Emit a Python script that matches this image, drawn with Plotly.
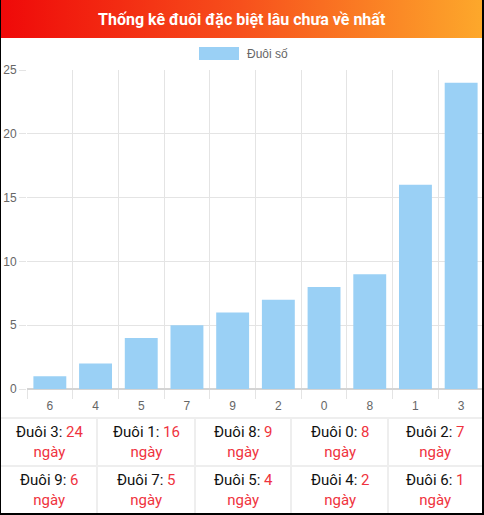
import base64
import plotly.graph_objects as go

# Data
digits = ["6", "4", "5", "7", "9", "2", "0", "8", "1", "3"]
days = [1, 2, 4, 5, 6, 7, 8, 9, 16, 24]
series_name = "Đuôi số"
chart_title = "Thống kê đuôi đặc biệt lâu chưa về nhất"
day_word = "ngày"

W, H = 484, 515
RED = "#ef3340"

# table: longest first, 5 columns x 2 rows
ranked = sorted(zip(digits, days), key=lambda p: -p[1])

fig = go.Figure()

fig.add_trace(go.Bar(
    x=digits, y=days, name=series_name,
    marker=dict(color="#9ad0f5", line=dict(width=0)),
    showlegend=False, hoverinfo="x+y",
))

# gradient header bar as an svg image
svg = (f"<svg xmlns='http://www.w3.org/2000/svg' width='{W}' height='38'>"
       "<defs><linearGradient id='g' x1='0' x2='1' y1='0' y2='0'>"
       "<stop offset='0' stop-color='#ef0909'/>"
       "<stop offset='0.5' stop-color='#f7501c'/>"
       "<stop offset='1' stop-color='#fda82b'/>"
       "</linearGradient></defs>"
       f"<rect width='{W}' height='38' fill='url(#g)'/></svg>")
svg_uri = "data:image/svg+xml;base64," + base64.b64encode(svg.encode()).decode()

grid = "#e4e4e4"
cell_line = "#eeeeee"

shapes = [
    # white page
    dict(type="rect", xref="paper", yref="paper", layer="below",
         x0=1 / W, x1=482 / W, y0=2 / H, y1=1,
         fillcolor="white", line=dict(width=0)),
    # legend swatch
    dict(type="rect", xref="paper", yref="paper",
         x0=199 / W, x1=239 / W, y0=1 - 60 / H, y1=1 - 47 / H,
         fillcolor="#9ad0f5", line=dict(width=0)),
]
# table grid
for yy in [418, 466]:
    shapes.append(dict(type="line", xref="paper", yref="paper",
                       x0=1 / W, x1=482 / W, y0=1 - yy / H, y1=1 - yy / H,
                       line=dict(color=cell_line, width=2)))
col_edges = [1, 97, 195, 291, 388, 482]
for xx in col_edges[1:-1]:
    shapes.append(dict(type="line", xref="paper", yref="paper",
                       x0=xx / W, x1=xx / W, y0=2 / H, y1=1 - 418 / H,
                       line=dict(color=cell_line, width=2)))
# thin black frame on left, right and bottom
for x0, x1, y0, y1 in [(0, 1, 0, H), (482, W, 0, H), (0, W, H - 2, H)]:
    shapes.append(dict(type="rect", xref="paper", yref="paper", layer="above",
                       x0=x0 / W, x1=x1 / W, y0=1 - y1 / H, y1=1 - y0 / H,
                       fillcolor="black", line=dict(width=0)))

annotations = [
    dict(text=f"<b>{chart_title}</b>", xref="paper", yref="paper",
         x=0.5, y=1 - 19 / H, xanchor="center", yanchor="middle",
         showarrow=False, font=dict(family="Roboto", size=16, color="white")),
    dict(text=series_name, xref="paper", yref="paper",
         x=245 / W, y=1 - 53.5 / H, xanchor="left", yanchor="middle",
         showarrow=False, font=dict(family="Arial", size=12, color="#666")),
]
row_mid = [441.5, 490]
for i, (d, n) in enumerate(ranked):
    r, c = divmod(i, 5)
    cx = (col_edges[c] + col_edges[c + 1]) / 2
    annotations.append(dict(
        text=(f"Đuôi {d}: <span style='color:{RED}'>{n}</span><br>"
              f"<span style='color:{RED}'>{day_word}</span>"),
        xref="paper", yref="paper", x=cx / W, y=1 - row_mid[r] / H,
        xanchor="center", yanchor="middle", align="center", showarrow=False,
        font=dict(family="Roboto", size=15, color="#111")))

fig.update_layout(
    width=W, height=H,
    margin=dict(l=0, r=0, t=0, b=0),
    paper_bgcolor="black",
    plot_bgcolor="white",
    bargap=0.28,
    font=dict(family="Arial", size=12, color="#666"),
    xaxis=dict(domain=[27 / W, 1], type="category", tickson="boundaries",
               showgrid=True, gridcolor=grid, ticks="outside", ticklen=9,
               tickcolor=grid, showline=False, automargin=False,
               ticklabelstandoff=8,
               tickfont=dict(size=12, color="#666"), fixedrange=True),
    yaxis=dict(domain=[126 / H, 445 / H], range=[0, 25], dtick=5,
               showgrid=True, gridcolor=grid, zeroline=True,
               zerolinecolor="#d4d4d4", ticks="outside", ticklen=7,
               tickcolor=grid, showline=False,
               automargin=False, tickfont=dict(size=12, color="#666"),
               fixedrange=True),
    shapes=shapes,
    images=[dict(source=svg_uri, xref="paper", yref="paper", x=1 / W, y=1,
                 sizex=481 / W, sizey=38 / H, xanchor="left", yanchor="top",
                 sizing="stretch", layer="above")],
    annotations=annotations,
)

fig.write_html("out.html", config={"displayModeBar": False},
               post_script="document.body.style.margin='0';")
